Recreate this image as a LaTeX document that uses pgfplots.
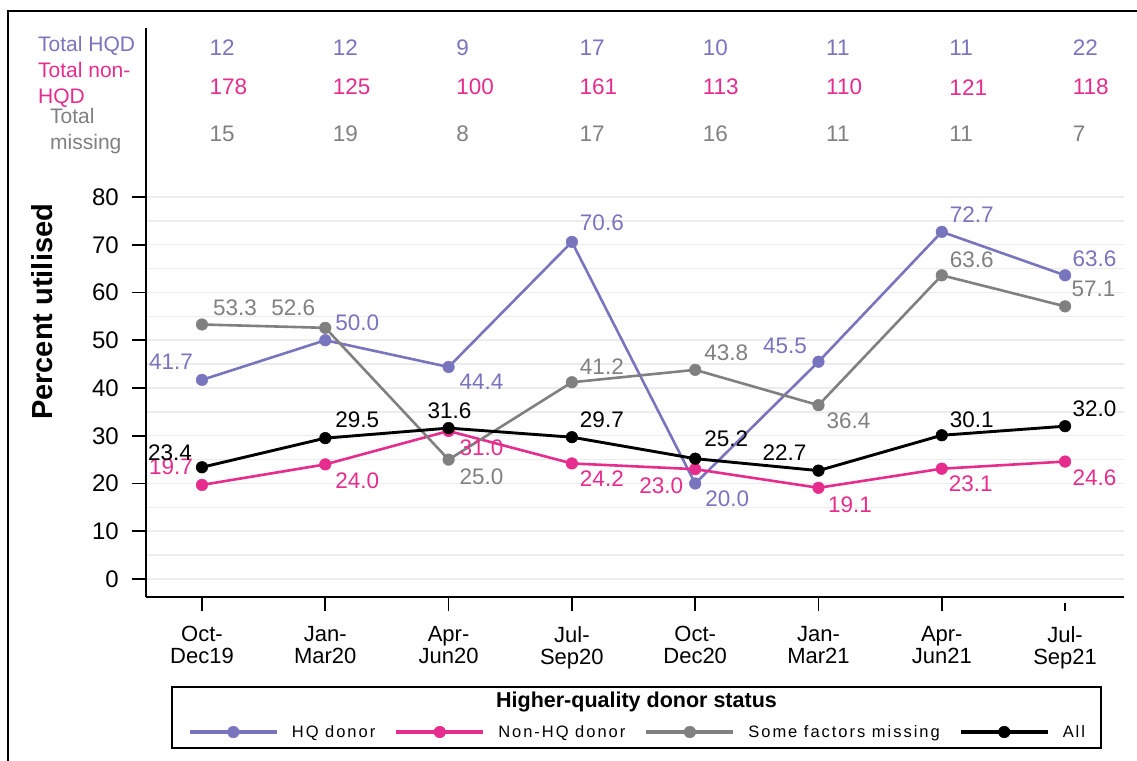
\documentclass[border=0pt]{standalone}
\usepackage{fontspec}
\setmainfont{Liberation Sans}
\newfontfamily\legfont[LetterSpace=12]{Liberation Sans}
\usepackage{pgfplots}
\usepackage{pgfplotstable}
\pgfplotsset{compat=1.18}
\definecolor{hq}{RGB}{121,116,190}
\definecolor{nhq}{RGB}{230,44,140}
\definecolor{mis}{RGB}{128,128,128}
\definecolor{gridc}{RGB}{236,236,236}
\newcommand{\lab}{\fontsize{22.5}{26}\selectfont}

\pgfplotstableread{
x y dx dy
0 41.7 -31 18
1 50.0 32 17
2 44.4 33 -15
3 70.6 30 19
4 20.0 32 -15.5
5 45.5 -33.5 16
6 72.7 30 17
7 63.6 29.5 17
}\hqdata
\pgfplotstableread{
x y dx dy
0 19.7 -31 18
1 24.0 32 -16.6
2 31.0 33 -16.5
3 24.2 30 -15
4 23.0 -34 -17
5 19.1 31.5 -16.7
6 23.1 29 -15
7 24.6 29.5 -16.5
}\nhqdata
\pgfplotstableread{
x y dx dy
0 53.3 33 17
1 52.6 -32 20
2 25.0 33 -17
3 41.2 30 16
4 43.8 31 17
5 36.4 30 -16
6 63.6 30 16
7 57.1 28.5 17
}\misdata
\pgfplotstableread{
x y dx dy
0 23.4 -32 15
1 29.5 32 18
2 31.6 1 17
3 29.7 30 17.7
4 25.2 31 19.7
5 22.7 -34 17.6
6 30.1 30 16
7 32.0 29.5 17.7
}\alldata
\pgfplotstableread{
x hqd nhqd mis
0 12 178 15
1 12 125 19
2 9 100 8
3 17 161 17
4 10 113 16
5 11 110 11
6 11 121 11
7 22 118 7
}\totals

\begin{document}
\begin{tikzpicture}
\begin{axis}[
  at={(0pt,0pt)}, anchor=south west,
  x=123.3pt, y=4.775pt,
  xmin=-0.454, xmax=7.478, ymin=-3.77, ymax=115.4,
  clip=false,
  axis x line*=bottom, axis y line*=left,
  axis line style={line width=2pt, -},
  /pgf/number format/assume math mode=true,
  tick align=outside,
  major tick length=14pt,
  minor tick length=0pt,
  tick style={black, line width=1.6pt},
  xtick style={shorten >=6pt},
  ytick={0,10,...,80},
  minor ytick={5,15,...,75},
  ymajorgrids, yminorgrids,
  major grid style={gridc, line width=1.5pt},
  minor grid style={gridc, line width=1.5pt},
  xtick={0,...,7},
  xticklabels={{Oct-\\Dec19},{Jan-\\Mar20},{Apr-\\Jun20},{Jul-\\Sep20},{Oct-\\Dec20},{Jan-\\Mar21},{Apr-\\Jun21},{Jul-\\Sep21}},
  xticklabel style={font=\fontsize{22}{22}\selectfont, align=center, inner sep=0pt, anchor=north, yshift=-15pt},
  yticklabel style={font=\fontsize{24}{28}\selectfont, inner sep=0pt, anchor=east, xshift=-13pt},
  ylabel={Percent utilised},
  every axis y label/.style={at={(axis description cs:-0.1058,0.501)}, rotate=90, anchor=center, font=\bfseries\fontsize{29}{32}\selectfont},
  legend columns=4,
  legend style={at={(axis description cs:0.5015,-0.2373)}, anchor=center, draw=none, fill=none,
    font={\legfont\fontsize{16.5}{18}\selectfont}, inner sep=0pt, outer sep=0pt,
    nodes={inner sep=0pt},
    /tikz/every odd column/.append style={column sep=13pt},
    /tikz/every even column/.append style={column sep=19pt}},
  legend cell align=left,
  legend image code/.code={%
    \draw[#1, mark=none, line width=4pt] (0pt,0pt) -- (87pt,0pt);%
    \draw[#1, only marks] plot coordinates {(43.5pt,0pt)};},
  nodes near coords,
  point meta=explicit symbolic,
  visualization depends on={\thisrow{dx}\as\dx},
  visualization depends on={\thisrow{dy}\as\dy},
]
\addplot[color=hq, line width=2.6pt, mark=*, mark size=5.8pt, mark options={line width=0.5pt},
  every node near coord/.style={anchor=center, xshift=\dx pt, yshift=\dy pt, text=hq, font=\lab, inner sep=0pt}]
  table[x=x, y=y, meta=y] {\hqdata};
\addlegendentry{HQ donor}
\addplot[color=nhq, line width=2.6pt, mark=*, mark size=5.8pt, mark options={line width=0.5pt},
  every node near coord/.style={anchor=center, xshift=\dx pt, yshift=\dy pt, text=nhq, font=\lab, inner sep=0pt}]
  table[x=x, y=y, meta=y] {\nhqdata};
\addlegendentry{Non-HQ donor}
\addplot[color=mis, line width=2.6pt, mark=*, mark size=5.8pt, mark options={line width=0.5pt},
  every node near coord/.style={anchor=center, xshift=\dx pt, yshift=\dy pt, text=mis, font=\lab, inner sep=0pt}]
  table[x=x, y=y, meta=y] {\misdata};
\addlegendentry{Some factors missing}
\addplot[color=black, line width=2.9pt, mark=*, mark size=5.8pt, mark options={line width=0.5pt},
  every node near coord/.style={anchor=center, xshift=\dx pt, yshift=\dy pt, text=black, font=\lab, inner sep=0pt}]
  table[x=x, y=y, meta=y] {\alldata};
\addlegendentry{All}
% totals table
\addplot[forget plot, draw=none, mark=none, visualization depends on={0\as\dx}, visualization depends on={0\as\dy},
  every node near coord/.style={anchor=west, xshift=7.5pt, text=hq, font=\lab, inner sep=0pt}]
  table[x=x, y expr=111.3, meta=hqd] {\totals};
\addplot[forget plot, draw=none, mark=none, visualization depends on={0\as\dx}, visualization depends on={0\as\dy},
  every node near coord/.style={anchor=west, xshift=7.5pt, text=nhq, font=\lab, inner sep=0pt}]
  table[x=x, y expr=103.0, meta=nhqd] {\totals};
\addplot[forget plot, draw=none, mark=none, visualization depends on={0\as\dx}, visualization depends on={0\as\dy},
  every node near coord/.style={anchor=west, xshift=7.5pt, text=mis, font=\lab, inner sep=0pt}]
  table[x=x, y expr=93.3, meta=mis] {\totals};
\end{axis}
% row labels of the totals table
\node[anchor=west, inner sep=0pt, text=hq, font=\fontsize{21}{26}\selectfont] at (-108pt,551pt) {Total HQD};
\node[anchor=west, inner sep=0pt, text=nhq, align=left, font=\fontsize{21}{26}\selectfont] at (-108pt,512pt) {Total non-\\HQD};
\node[anchor=west, inner sep=0pt, text=mis, align=left, font=\fontsize{21}{26}\selectfont] at (-96pt,466pt) {Total\\missing};
% legend frame and title
\draw[line width=2pt] (26pt,-90pt) rectangle (955pt,-151pt);
\node[font=\bfseries\fontsize{21.5}{24}\selectfont, inner sep=0pt] at (490.5pt,-105pt) {Higher-quality donor status};
% outer frame
\draw[line width=2pt] (-138pt,586pt) rectangle (1010pt,-180pt);
\pgfresetboundingbox
\path[use as bounding box] (-146pt,-163pt) rectangle (991pt,597pt);
\end{tikzpicture}
\end{document}
